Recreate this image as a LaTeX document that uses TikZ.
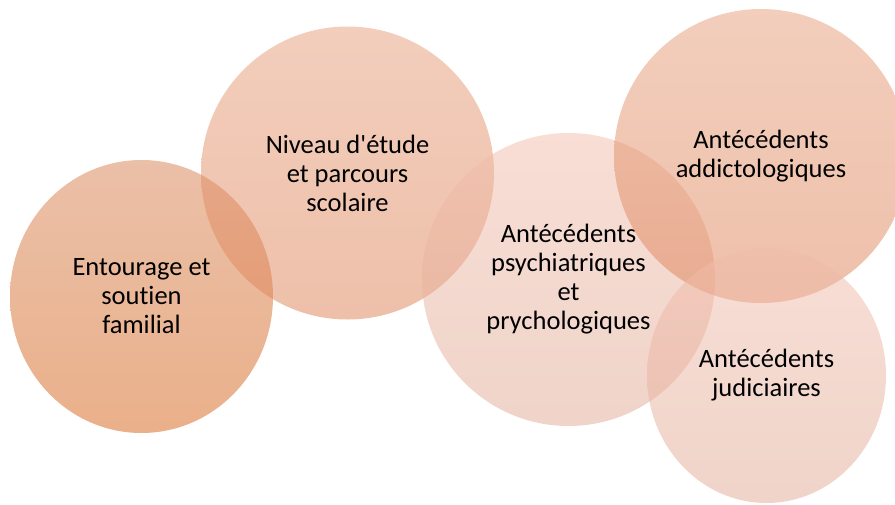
\documentclass[tikz,border=0pt]{standalone}
\usepackage{fontspec}
\setmainfont[Ligatures=NoCommon]{Carlito}
\usetikzlibrary{shapes.geometric}

\definecolor{peachA1}{RGB}{215,129,81}
\definecolor{peachA2}{RGB}{213,97,21}
\definecolor{peachB1}{RGB}{231,157,121}
\definecolor{peachB2}{RGB}{221,129,85}
\definecolor{peachC1}{RGB}{241,189,171}
\definecolor{peachC2}{RGB}{225,169,149}

\begin{document}
\begin{tikzpicture}[
		x=1pt, y=-1pt,
		every node/.style={ellipse, inner sep=0pt, align=center,
			fill opacity=0.5, text opacity=1,
			font=\fontsize{26.5}{29}\selectfont},
		deep/.style={top color=peachA1, bottom color=peachA2},
		mid/.style={top color=peachB1, bottom color=peachB2},
		pale/.style={top color=peachC1, bottom color=peachC2}
		]
		\clip (0,0) rectangle (895,504);
		\node[deep, minimum width=263pt, minimum height=273pt] (entourage) at (141.5,296.5)
			{Entourage et\\soutien\\familial};
		\node[mid, minimum size=293pt] (niveau) at (347.5,173)
			{Niveau d\textquotesingle étude\\et parcours\\scolaire};
		\node[pale, minimum size=293pt] (psy) at (568.5,279.5)
			{Antécédents\\psychiatriques\\et\\prychologiques};
		\node[mid, minimum size=294pt] (addicto) at (761,156)
			{Antécédents\\addictologiques};
		\node[pale, minimum width=239pt, minimum height=255pt] (judic) at (766.5,375.5)
			{Antécédents\\judiciaires};
		\end{tikzpicture}
\end{document}
